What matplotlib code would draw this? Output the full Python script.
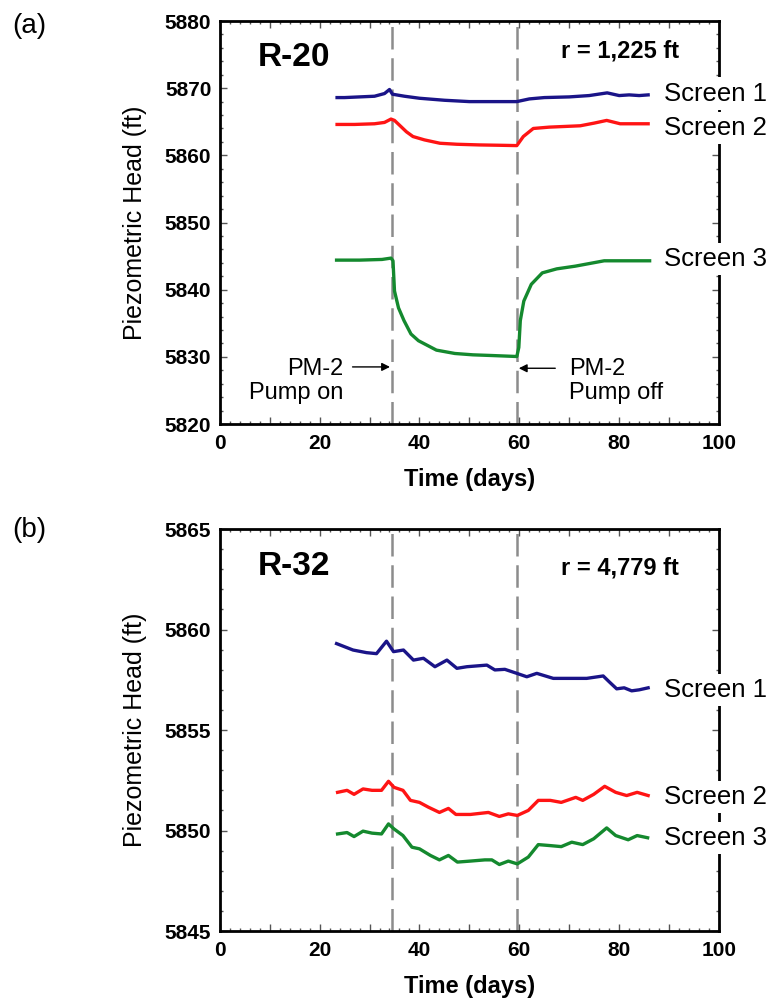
import matplotlib
matplotlib.use("Agg")
import matplotlib.pyplot as plt
from matplotlib.ticker import MultipleLocator, FuncFormatter

plt.rcParams['font.family'] = ['Liberation Sans', 'DejaVu Sans']

# ---------------- data: (a) R-20 ----------------
a_s1_t = [23.5, 25, 28, 31, 33, 34, 34.6, 37, 40, 45, 50, 55, 59.5, 62, 65, 70, 74, 77.6, 80, 82, 84, 85.8]
a_s1_h = [5868.6, 5868.6, 5868.7, 5868.8, 5869.2, 5869.8, 5869.1, 5868.8, 5868.5, 5868.2, 5868.0, 5868.0, 5868.0,
          5868.4, 5868.6, 5868.7, 5868.9, 5869.3, 5868.9, 5869.0, 5868.9, 5869.0]

a_s2_t = [23.5, 27, 31, 33, 34.3, 35, 37.4, 38.7, 41, 44.1, 47.5, 52, 56, 59.5, 60.8, 62.8, 66, 72.2, 75, 77.5, 80.2, 83, 85.8]
a_s2_h = [5864.6, 5864.6, 5864.7, 5864.9, 5865.4, 5865.2, 5863.5, 5862.8, 5862.3, 5861.8, 5861.65, 5861.55, 5861.5,
          5861.45, 5862.8, 5864.0, 5864.2, 5864.4, 5864.8, 5865.2, 5864.7, 5864.7, 5864.7]

a_s3_t = [23.4, 28, 32.5, 34.3, 34.7, 35.0, 35.8, 36.9, 38.3, 39.8, 43.4, 47.1, 50.7, 54.4, 59.5, 59.9, 60.2,
          60.9, 62.4, 64.6, 67.5, 71.2, 74.1, 77.0, 81, 86.1]
a_s3_h = [5844.4, 5844.4, 5844.5, 5844.7, 5844.3, 5839.8, 5837.3, 5835.4, 5833.4, 5832.4, 5831.0, 5830.5, 5830.3,
          5830.2, 5830.05, 5831.4, 5835.4, 5838.3, 5840.8, 5842.5, 5843.1, 5843.5, 5843.9, 5844.3, 5844.3, 5844.3]

# ---------------- data: (b) R-32 ----------------
b_s1_t = [23.4, 26.7, 29.4, 31.4, 33.4, 34.8, 36.8, 38.8, 40.8, 43.1, 45.5, 47.5, 49.5, 53.5, 55.1, 57.1, 59.5,
          61.5, 63.5, 66.8, 70.8, 73.5, 76.8, 78, 79.5, 81, 82.5, 84, 85.8]
b_s1_h = [5859.3, 5858.98, 5858.85, 5858.8, 5859.42, 5858.9, 5858.98, 5858.48, 5858.57, 5858.15, 5858.48, 5858.07,
          5858.15, 5858.23, 5857.99, 5858.02, 5857.82, 5857.65, 5857.82, 5857.57, 5857.57, 5857.57, 5857.69,
          5857.4, 5857.05, 5857.1, 5856.95, 5857.0, 5857.1]

b_s2_t = [23.6, 25.5, 26.9, 28.7, 30.5, 32.4, 33.8, 34.9, 36.7, 38.2, 40.0, 41.8, 44.0, 45.8, 47.3, 50.2, 53.8,
          56.0, 57.8, 59.6, 61.8, 63.8, 66.2, 68.4, 71.3, 72.7, 74.9, 77.1, 79.3, 81.5, 83.6, 85.8]
b_s2_h = [5851.9, 5852.0, 5851.8, 5852.07, 5852.0, 5852.0, 5852.45, 5852.15, 5852.0, 5851.5, 5851.4, 5851.16,
          5850.9, 5851.1, 5850.8, 5850.8, 5850.9, 5850.7, 5850.83, 5850.75, 5851.0, 5851.5, 5851.5, 5851.4,
          5851.65, 5851.5, 5851.8, 5852.2, 5851.9, 5851.74, 5851.9, 5851.74]

b_s3_t = [23.6, 25.5, 26.9, 28.7, 30.5, 32.4, 33.8, 34.9, 36.7, 38.5, 40.0, 42.2, 44.0, 45.8, 47.6, 50.2, 53.1,
          54.5, 56.0, 57.8, 59.6, 61.8, 63.8, 66.2, 68.4, 70.5, 72.7, 74.9, 77.5, 79.3, 81.8, 83.6, 85.7]
b_s3_h = [5849.83, 5849.9, 5849.7, 5849.97, 5849.87, 5849.83, 5850.33, 5850.08, 5849.75, 5849.17, 5849.09,
          5848.76, 5848.54, 5848.76, 5848.43, 5848.48, 5848.54, 5848.54, 5848.31, 5848.48, 5848.34, 5848.68,
          5849.3, 5849.25, 5849.2, 5849.42, 5849.3, 5849.59, 5850.13, 5849.75, 5849.54, 5849.75, 5849.64]

pump_on, pump_off = 34.6, 59.5
screen_names = ["Screen 1", "Screen 2", "Screen 3"]
colors = ["#1a1488", "#ff1414", "#14892e"]


def style_axes(ax, ylim, ymajor, yminor):
    ax.set_xlim(0, 100)
    ax.set_ylim(*ylim)
    ax.xaxis.set_major_locator(MultipleLocator(10))
    ax.xaxis.set_minor_locator(MultipleLocator(2))
    ax.xaxis.set_major_formatter(FuncFormatter(lambda v, p: f"{v:.0f}" if round(v) % 20 == 0 else ""))
    ax.yaxis.set_major_locator(MultipleLocator(ymajor))
    ax.yaxis.set_minor_locator(MultipleLocator(yminor))
    ax.tick_params(which="both", direction="in", top=True, right=True, color="#555555", width=1)
    ax.tick_params(which="major", length=5, pad=6, labelsize=15)
    ax.tick_params(axis="x", which="major", pad=7)
    ax.tick_params(which="minor", length=2.5)
    for lab in ax.get_xticklabels() + ax.get_yticklabels():
        lab.set_fontweight("bold")
    for s in ax.spines.values():
        s.set_linewidth(2.0)
    ax.set_xlabel("Time (days)", fontsize=17, fontweight="bold")
    ax.set_ylabel("Piezometric Head (ft)", fontsize=18)
    ax.xaxis.set_label_coords(0.5, -0.11)
    ax.yaxis.set_label_coords(-0.146, 0.5)
    for xv in (pump_on, pump_off):
        ax.axvline(xv, color="#8c8c8c", lw=1.8, dashes=(9, 3.5), zorder=1)


def screen_label(ax, y, name):
    ax.text(89.0, y, name, fontsize=18.5, va="center", ha="left", zorder=5, clip_on=False,
            bbox=dict(facecolor="white", edgecolor="none", pad=3))


fig = plt.figure(figsize=(7.71, 10.05), dpi=100)
ax1 = fig.add_axes([0.2850, 0.5781, 0.6476, 0.4010])
ax2 = fig.add_axes([0.2850, 0.0736, 0.6476, 0.4000])

# ---- panel (a)
style_axes(ax1, (5820, 5880), 10, 2)
for t, h, c in zip([a_s1_t, a_s2_t, a_s3_t], [a_s1_h, a_s2_h, a_s3_h], colors):
    ax1.plot(t, h, color=c, lw=2.4, zorder=3)
for y, name in zip([5869.2, 5864.1, 5844.6], screen_names):
    screen_label(ax1, y, name)
ax1.text(0.077, 0.909, "R-20", transform=ax1.transAxes, fontsize=24, fontweight="bold", va="center", ha="left")
ax1.text(0.92, 0.925, "r = 1,225 ft", transform=ax1.transAxes, fontsize=17, fontweight="bold",
         va="center", ha="right")
ax1.annotate("", xy=(34.1, 5828.5), xytext=(26.6, 5828.5),
             arrowprops=dict(arrowstyle="-|>", color="k", lw=1, mutation_scale=12, shrinkA=0, shrinkB=0))
ax1.annotate("", xy=(59.9, 5828.3), xytext=(67.2, 5828.3),
             arrowprops=dict(arrowstyle="-|>", color="k", lw=1, mutation_scale=12, shrinkA=0, shrinkB=0))
ax1.text(24.8, 5826.4, "PM-2\nPump on", fontsize=17, ha="right", va="center", linespacing=1.1)
ax1.text(69.9, 5826.4, "PM-2\nPump off", fontsize=17, ha="left", va="center", linespacing=1.1)

# ---- panel (b)
style_axes(ax2, (5845, 5865), 5, 1)
for t, h, c in zip([b_s1_t, b_s2_t, b_s3_t], [b_s1_h, b_s2_h, b_s3_h], colors):
    ax2.plot(t, h, color=c, lw=2.4, zorder=3)
for y, name in zip([5857.0, 5851.66, 5849.64], screen_names):
    screen_label(ax2, y, name)
ax2.text(0.077, 0.907, "R-32", transform=ax2.transAxes, fontsize=24, fontweight="bold", va="center", ha="left")
ax2.text(0.92, 0.904, "r = 4,779 ft", transform=ax2.transAxes, fontsize=17, fontweight="bold",
         va="center", ha="right")

fig.text(12 / 771, 1 - 26 / 1005, "(a)", fontsize=20, ha="left", va="center")
fig.text(12 / 771, 1 - 530 / 1005, "(b)", fontsize=20, ha="left", va="center")

fig.savefig("out.png", dpi=100)
